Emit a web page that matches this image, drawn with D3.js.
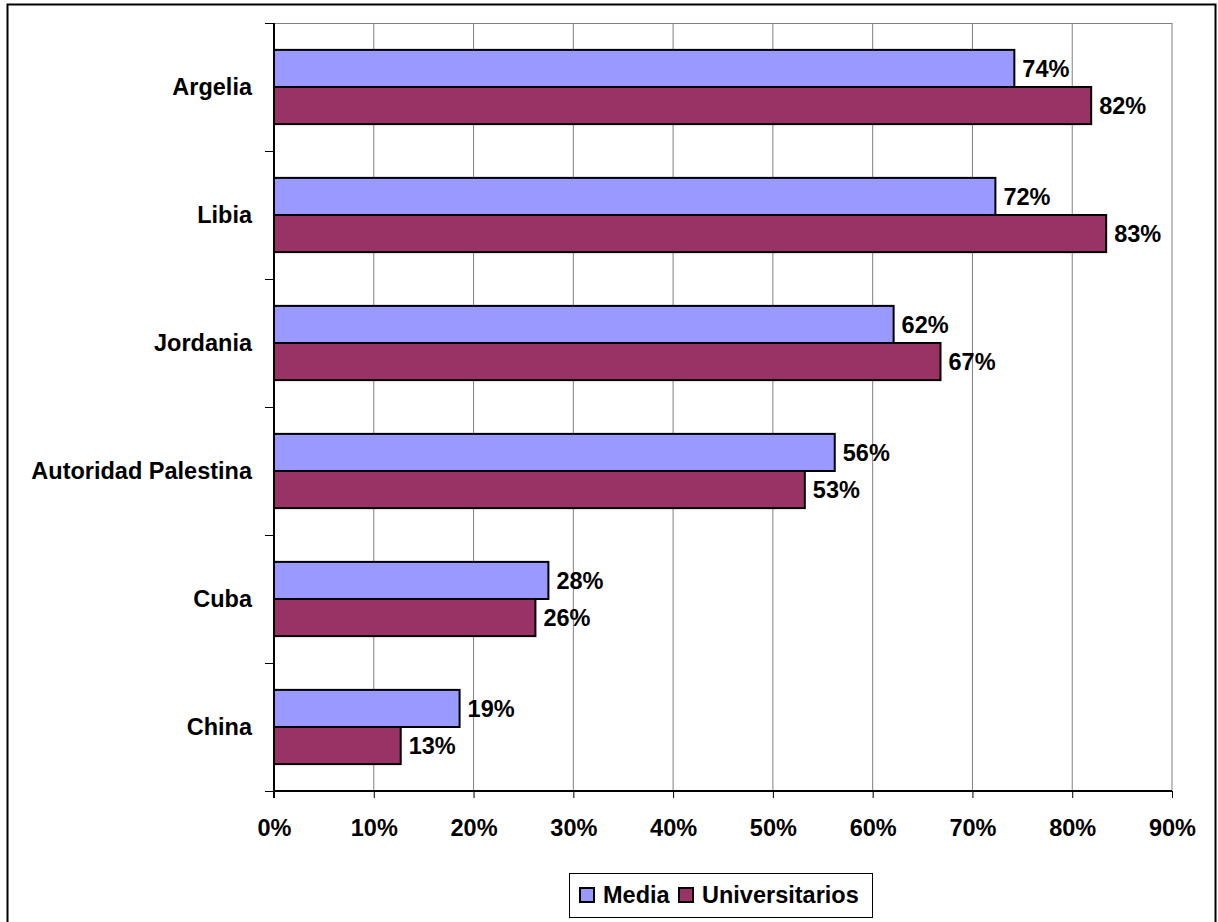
<!DOCTYPE html>
<html>
<head>
<meta charset="utf-8">
<script src="https://cdn.jsdelivr.net/npm/d3@7"></script>
<style>
  body { margin: 0; background: #fff; }
  text { font-family: Arial, "Liberation Sans", sans-serif; font-weight: bold; }
</style>
</head>
<body>
<div id="chart"></div>
<script>
// données
const paises = ["Argelia", "Libia", "Jordania", "Autoridad Palestina", "Cuba", "China"];
const series = ["Media", "Universitarios"];
const media = [74.2, 72.3, 62.1, 56.2, 27.5, 18.6];
const universitarios = [81.9, 83.4, 66.8, 53.2, 26.2, 12.7];
const ticksX = [0, 10, 20, 30, 40, 50, 60, 70, 80, 90];

const colores = {"Media": "#9999ff", "Universitarios": "#993366"};
const fs = "23.5px"; // taille police

const W = 1218, H = 922;
const plot = {left: 274, top: 23, right: 1172, bottom: 791};

const svg = d3.select("#chart").append("svg")
  .attr("width", W).attr("height", H);

// cadre extérieur
svg.append("rect")
  .attr("x", 7.5).attr("y", 4.5)
  .attr("width", 1208).attr("height", 930)
  .attr("fill", "none").attr("stroke", "#000").attr("stroke-width", 2);

const x = d3.scaleLinear().domain([0, 90]).range([plot.left, plot.right]);
const y = d3.scaleBand().domain(paises).range([plot.top, plot.bottom])
  .paddingInner(0.42).paddingOuter(0.21);
const ySub = d3.scaleBand().domain(series).range([0, y.bandwidth()]);

// grille verticale
svg.append("g").selectAll("line")
  .data(ticksX.slice(1))
  .join("line")
    .attr("x1", d => x(d)).attr("x2", d => x(d))
    .attr("y1", plot.top).attr("y2", plot.bottom)
    .attr("stroke", "#808080").attr("stroke-width", 1);

// bord haut du plot
svg.append("line")
  .attr("x1", plot.left).attr("x2", plot.right)
  .attr("y1", plot.top + 0.5).attr("y2", plot.top + 0.5)
  .attr("stroke", "#808080");

// barres
const data = paises.map((p, i) => ({pais: p, vals: [
  {serie: "Media", v: media[i]},
  {serie: "Universitarios", v: universitarios[i]}
]}));

const grupos = svg.append("g").selectAll("g")
  .data(data)
  .join("g")
    .attr("transform", d => `translate(0,${y(d.pais)})`);

grupos.selectAll("rect")
  .data(d => d.vals)
  .join("rect")
    .attr("x", x(0))
    .attr("y", d => ySub(d.serie))
    .attr("width", d => x(d.v) - x(0))
    .attr("height", ySub.bandwidth())
    .attr("fill", d => colores[d.serie])
    .attr("stroke", "#000").attr("stroke-width", 2);

grupos.selectAll("text")
  .data(d => d.vals)
  .join("text")
    .attr("x", d => x(d.v) + 8)
    .attr("y", d => ySub(d.serie) + ySub.bandwidth() / 2)
    .attr("dy", "0.36em")
    .style("font-size", fs)
    .text(d => Math.round(d.v) + "%");

// axe Y : ticks aux limites des catégories
const bornes = paises.map(p => y(p) - y.paddingOuter() * y.step()).concat([plot.bottom]);
svg.append("g").selectAll("line")
  .data(bornes)
  .join("line")
    .attr("x1", plot.left - 9).attr("x2", plot.left)
    .attr("y1", d => Math.round(d) + 0.5).attr("y2", d => Math.round(d) + 0.5)
    .attr("stroke", "#000");

svg.append("line")
  .attr("x1", plot.left).attr("x2", plot.left)
  .attr("y1", plot.top).attr("y2", plot.bottom + 7)
  .attr("stroke", "#000").attr("stroke-width", 2);

svg.append("g").selectAll("text")
  .data(paises)
  .join("text")
    .attr("x", 252)
    .attr("y", d => y(d) + y.bandwidth() / 2)
    .attr("dy", "0.36em")
    .attr("text-anchor", "end")
    .style("font-size", fs)
    .text(d => d);

// axe X
const axeX = svg.append("g")
  .attr("transform", `translate(0,${plot.bottom})`)
  .call(d3.axisBottom(x).tickValues(ticksX).tickSize(7).tickPadding(21)
    .tickFormat(d => d + "%"));
axeX.select(".domain").attr("stroke", "#000").attr("stroke-width", 2)
  .attr("d", `M${plot.left},0H${plot.right}`);
axeX.selectAll(".tick line").attr("stroke", "#000");
axeX.selectAll(".tick text")
  .style("font-size", fs).style("font-family", "Arial, 'Liberation Sans', sans-serif")
  .style("font-weight", "bold").attr("fill", "#000");

// légende
const leg = svg.append("g").attr("transform", "translate(569,873)");
leg.append("rect")
  .attr("x", 0.5).attr("y", 0.5).attr("width", 303).attr("height", 44)
  .attr("fill", "#fff").attr("stroke", "#000");
const legX = [11, 110];
series.forEach((s, i) => {
  leg.append("rect")
    .attr("x", legX[i]).attr("y", 15).attr("width", 14).attr("height", 14)
    .attr("fill", colores[s]).attr("stroke", "#000").attr("stroke-width", 2);
  leg.append("text")
    .attr("x", legX[i] + 23).attr("y", 22).attr("dy", "0.36em")
    .style("font-size", fs)
    .text(s);
});
</script>
</body>
</html>
